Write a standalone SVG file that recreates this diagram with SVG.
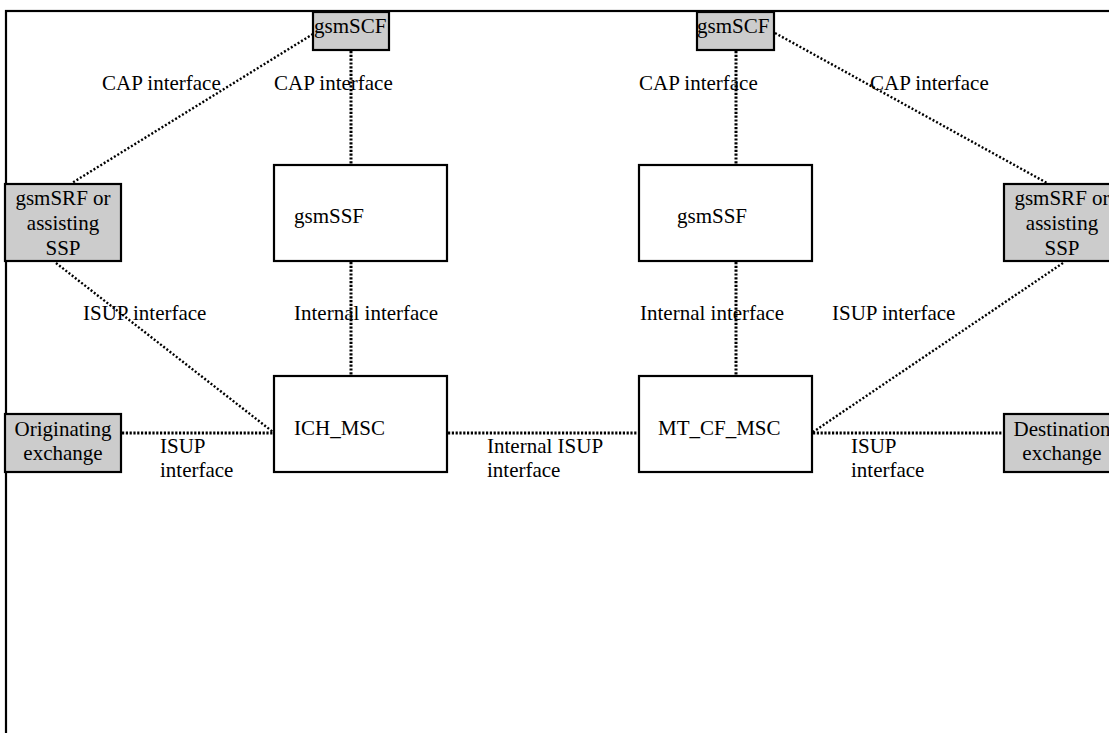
<svg xmlns="http://www.w3.org/2000/svg" width="1109" height="733" viewBox="0 0 1109 733">
<style>
text{font-family:"Liberation Serif","Times New Roman",serif;font-size:21px;fill:#000}
.box{fill:#fff;stroke:#000;stroke-width:2.2}
.grey{fill:#cccccc;stroke:#000;stroke-width:2.2}
.c{text-anchor:middle}
.dot{fill:none;stroke:#000;stroke-width:3;stroke-dasharray:2.2 1.6}
.dotd{fill:none;stroke:#000;stroke-width:2.4;stroke-dasharray:2 2}
</style>
<rect x="6" y="11" width="1200" height="800" fill="#fff" stroke="#000" stroke-width="2.2"/>
<g id="connectors">
<line class="dotd" x1="313" y1="34" x2="72" y2="183"/>
<line class="dot" x1="351" y1="51" x2="351" y2="164"/>
<line class="dotd" x1="775" y1="33" x2="1047" y2="183"/>
<line class="dot" x1="736" y1="51" x2="736" y2="164"/>
<line class="dotd" x1="56" y1="263" x2="273" y2="432"/>
<line class="dot" x1="351" y1="262" x2="351" y2="375"/>
<line class="dot" x1="736" y1="262" x2="736" y2="375"/>
<line class="dotd" x1="1063" y1="263" x2="813" y2="432"/>
<line class="dot" x1="122" y1="433" x2="273" y2="433"/>
<line class="dot" x1="448" y1="433" x2="638" y2="433"/>
<line class="dot" x1="813" y1="433" x2="1003" y2="433"/>
</g>
<g id="labels">
<text x="102" y="90">CAP interface</text>
<text x="274" y="90">CAP interface</text>
<text x="639" y="90">CAP interface</text>
<text x="870" y="90">CAP interface</text>
<text x="83" y="320">ISUP interface</text>
<text x="294" y="320">Internal interface</text>
<text x="640" y="320">Internal interface</text>
<text x="832" y="320">ISUP interface</text>
<text x="160" y="453">ISUP</text>
<text x="160" y="477">interface</text>
<text x="487" y="453">Internal ISUP</text>
<text x="487" y="477">interface</text>
<text x="851" y="453">ISUP</text>
<text x="851" y="477">interface</text>
</g>
<g id="gsmSCF-left">
<rect class="grey" x="313" y="12" width="76" height="38"/>
<text x="314" y="33">gsmSCF</text>
</g>
<g id="gsmSCF-right">
<rect class="grey" x="697" y="12" width="77" height="38"/>
<text x="697" y="33">gsmSCF</text>
</g>
<g id="gsmSRF-left">
<rect class="grey" x="5" y="184" width="116" height="77"/>
<text class="c" x="63" y="205">gsmSRF or</text>
<text class="c" x="63" y="230">assisting</text>
<text class="c" x="63" y="255">SSP</text>
</g>
<g id="gsmSRF-right">
<rect class="grey" x="1004" y="184" width="116" height="77"/>
<text class="c" x="1062" y="205">gsmSRF or</text>
<text class="c" x="1062" y="230">assisting</text>
<text class="c" x="1062" y="255">SSP</text>
</g>
<g id="gsmSSF-left">
<rect class="box" x="274" y="165" width="173" height="96"/>
<text x="294" y="223">gsmSSF</text>
</g>
<g id="gsmSSF-right">
<rect class="box" x="639" y="165" width="173" height="96"/>
<text x="677" y="223">gsmSSF</text>
</g>
<g id="ICH_MSC">
<rect class="box" x="274" y="376" width="173" height="96"/>
<text x="294" y="435">ICH_MSC</text>
</g>
<g id="MT_CF_MSC">
<rect class="box" x="639" y="376" width="173" height="96"/>
<text x="658" y="435">MT_CF_MSC</text>
</g>
<g id="originating">
<rect class="grey" x="5" y="414" width="116" height="58"/>
<text class="c" x="63" y="436">Originating</text>
<text class="c" x="63" y="460">exchange</text>
</g>
<g id="destination">
<rect class="grey" x="1004" y="414" width="116" height="58"/>
<text class="c" x="1062" y="436">Destination</text>
<text class="c" x="1062" y="460">exchange</text>
</g>
</svg>
